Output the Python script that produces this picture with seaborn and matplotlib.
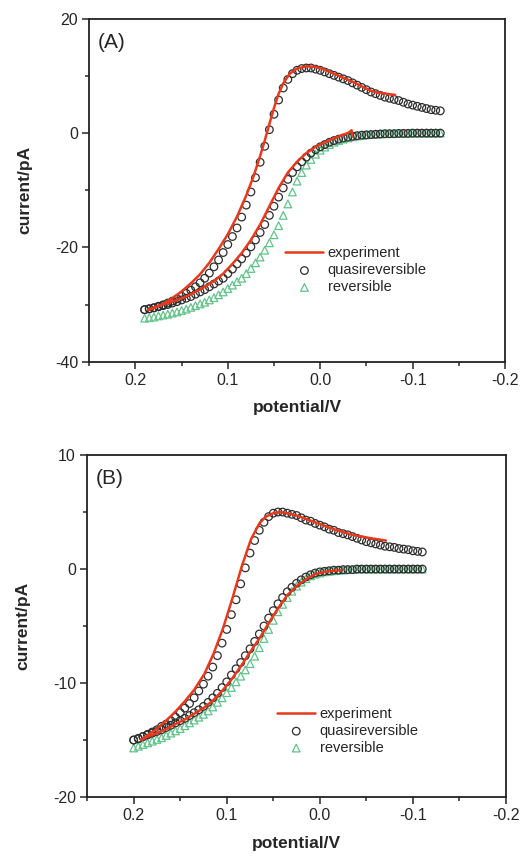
import pandas as pd
import seaborn as sns
import matplotlib.pyplot as plt
from matplotlib.ticker import MultipleLocator, FormatStrFormatter

sns.set_style("ticks")
plt.rcParams['font.family'] = ['Liberation Sans', 'DejaVu Sans']
plt.rcParams['axes.unicode_minus'] = False

# ---------------- panel (A) ----------------
potential_a = [0.190, 0.185, 0.180, 0.175, 0.170, 0.165, 0.160, 0.155, 0.150, 0.145,
               0.140, 0.135, 0.130, 0.125, 0.120, 0.115, 0.110, 0.105, 0.100, 0.095,
               0.090, 0.085, 0.080, 0.075, 0.070, 0.065, 0.060, 0.055, 0.050, 0.045,
               0.040, 0.035, 0.030, 0.025, 0.020, 0.015, 0.010, 0.005, 0.000, -0.005,
               -0.010, -0.015, -0.020, -0.025, -0.030, -0.035, -0.040, -0.045, -0.050, -0.055,
               -0.060, -0.065, -0.070, -0.075, -0.080, -0.085, -0.090, -0.095, -0.100, -0.105,
               -0.110, -0.115, -0.120, -0.125, -0.130]
quasi_a_rev = [-30.9, -30.75, -30.55, -30.3, -30.05, -29.75, -29.4, -29.0, -28.55, -28.05,
               -27.5, -26.9, -26.2, -25.4, -24.5, -23.4, -22.2, -20.9, -19.5, -18.1,
               -16.6, -14.7, -12.6, -10.3, -7.8, -5.1, -2.3, 0.6, 3.3, 5.8,
               7.9, 9.4, 10.4, 11.0, 11.3, 11.4, 11.4, 11.2, 11.0, 10.7,
               10.4, 10.1, 9.8, 9.5, 9.2, 8.8, 8.4, 8.0, 7.6, 7.2,
               6.9, 6.6, 6.3, 6.1, 5.9, 5.7, 5.4, 5.1, 4.9, 4.7,
               4.5, 4.3, 4.1, 4.0, 3.9]
quasi_a_fwd = [-30.9, -30.75, -30.6, -30.4, -30.2, -30.0, -29.75, -29.5, -29.2, -28.9,
               -28.6, -28.2, -27.8, -27.4, -26.9, -26.4, -25.9, -25.4, -24.6, -23.8,
               -22.9, -22.0, -21.0, -19.9, -18.7, -17.4, -16.0, -14.4, -12.8, -11.2,
               -9.6, -8.1, -6.9, -5.9, -5.0, -4.2, -3.5, -2.9, -2.4, -2.0,
               -1.6, -1.3, -1.05, -0.85, -0.7, -0.55, -0.45, -0.35, -0.3, -0.25,
               -0.2, -0.15, -0.1, -0.1, -0.1, -0.05, -0.05, -0.05, 0.0, 0.0,
               0.0, 0.0, 0.0, 0.0, 0.0]
reversible_a = [-32.4, -32.3, -32.2, -32.0, -31.85, -31.7, -31.5, -31.3, -31.05, -30.8,
                -30.5, -30.2, -29.9, -29.6, -29.2, -28.8, -28.3, -27.8, -27.2, -26.6,
                -26.0, -25.4, -24.6, -23.7, -22.7, -21.7, -20.5, -19.2, -17.8, -16.2,
                -14.4, -12.4, -10.3, -8.4, -6.9, -5.6, -4.6, -3.7, -3.0, -2.45,
                -2.0, -1.6, -1.3, -1.05, -0.85, -0.65, -0.5, -0.4, -0.3, -0.25,
                -0.2, -0.15, -0.1, -0.1, -0.05, -0.05, -0.05, 0.0, 0.0, 0.0,
                0.0, 0.0, 0.0, 0.0, 0.0]
exp_a_rev_potential = [0.186, 0.180, 0.170, 0.160, 0.150, 0.140, 0.130, 0.120, 0.110, 0.100,
                       0.090, 0.080, 0.072, 0.065, 0.060, 0.055, 0.050, 0.045, 0.040, 0.033,
                       0.025, 0.015, 0.005, -0.005, -0.015, -0.025, -0.035, -0.045, -0.055, -0.062,
                       -0.068, -0.075, -0.081]
exp_a_rev_current = [-31.0, -30.6, -29.9, -28.9, -27.7, -26.3, -24.7, -22.7, -20.3, -17.7,
                     -14.6, -10.9, -7.5, -4.0, -1.3, 1.6, 4.4, 6.9, 8.7, 10.4,
                     11.3, 11.7, 11.6, 11.1, 10.4, 9.7, 9.0, 8.2, 7.4, 7.1,
                     7.0, 6.8, 6.7]
exp_a_fwd_potential = [0.186, 0.175, 0.165, 0.155, 0.145, 0.135, 0.125, 0.115, 0.105, 0.095,
                       0.085, 0.075, 0.065, 0.055, 0.045, 0.035, 0.025, 0.015, 0.005, -0.005,
                       -0.015, -0.025, -0.031, -0.034, -0.035]
exp_a_fwd_current = [-30.9, -30.2, -29.75, -29.2, -28.6, -27.8, -26.9, -25.9, -24.6, -22.9,
                     -21.0, -18.7, -16.0, -12.8, -9.6, -6.9, -5.0, -3.5, -2.4, -1.6,
                     -0.9, -0.3, 0.1, 0.5, -0.6]

# ---------------- panel (B) ----------------
potential_b = [0.200, 0.195, 0.190, 0.185, 0.180, 0.175, 0.170, 0.165, 0.160, 0.155,
               0.150, 0.145, 0.140, 0.135, 0.130, 0.125, 0.120, 0.115, 0.110, 0.105,
               0.100, 0.095, 0.090, 0.085, 0.080, 0.075, 0.070, 0.065, 0.060, 0.055,
               0.050, 0.045, 0.040, 0.035, 0.030, 0.025, 0.020, 0.015, 0.010, 0.005,
               0.000, -0.005, -0.010, -0.015, -0.020, -0.025, -0.030, -0.035, -0.040, -0.045,
               -0.050, -0.055, -0.060, -0.065, -0.070, -0.075, -0.080, -0.085, -0.090, -0.095,
               -0.100, -0.105, -0.110]
quasi_b_rev = [-15.0, -14.9, -14.7, -14.5, -14.3, -14.1, -13.8, -13.6, -13.3, -13.0,
               -12.6, -12.2, -11.8, -11.3, -10.7, -10.1, -9.4, -8.6, -7.6, -6.5,
               -5.3, -4.0, -2.7, -1.3, 0.1, 1.4, 2.5, 3.4, 4.1, 4.6,
               4.9, 5.0, 5.0, 4.9, 4.8, 4.7, 4.5, 4.3, 4.2, 4.0,
               3.85, 3.7, 3.5, 3.4, 3.2, 3.1, 3.0, 2.85, 2.7, 2.55,
               2.4, 2.3, 2.2, 2.1, 2.0, 1.95, 1.9, 1.8, 1.75, 1.7,
               1.6, 1.55, 1.5]
quasi_b_fwd = [-15.0, -14.85, -14.7, -14.55, -14.4, -14.25, -14.1, -13.9, -13.7, -13.5,
               -13.3, -13.1, -12.85, -12.6, -12.35, -12.05, -11.7, -11.3, -10.9, -10.4,
               -9.9, -9.3, -8.75, -8.2, -7.6, -7.0, -6.35, -5.7, -5.0, -4.3,
               -3.65, -3.05, -2.5, -2.0, -1.6, -1.25, -0.95, -0.7, -0.5, -0.35,
               -0.25, -0.2, -0.15, -0.1, -0.1, -0.05, -0.05, -0.05, 0.0, 0.0,
               0.0, 0.0, 0.0, 0.0, 0.0, 0.0, 0.0, 0.0, 0.0, 0.0,
               0.0, 0.0, 0.0]
reversible_b = [-15.7, -15.55, -15.4, -15.25, -15.1, -14.95, -14.8, -14.6, -14.4, -14.2,
                -14.0, -13.75, -13.5, -13.25, -13.0, -12.75, -12.45, -12.1, -11.7, -11.3,
                -10.85, -10.4, -9.9, -9.4, -8.85, -8.3, -7.65, -6.9, -6.1, -5.3,
                -4.5, -3.75, -3.1, -2.5, -1.95, -1.5, -1.15, -0.85, -0.6, -0.45,
                -0.35, -0.25, -0.2, -0.15, -0.1, -0.1, -0.05, -0.05, 0.0, 0.0,
                0.0, 0.0, 0.0, 0.0, 0.0, 0.0, 0.0, 0.0, 0.0, 0.0,
                0.0, 0.0, 0.0]
exp_b_rev_potential = [0.192, 0.185, 0.175, 0.165, 0.155, 0.145, 0.135, 0.124, 0.114, 0.104,
                       0.094, 0.084, 0.074, 0.065, 0.058, 0.050, 0.043, 0.035, 0.025, 0.015,
                       0.005, -0.005, -0.015, -0.025, -0.035, -0.045, -0.055, -0.063, -0.071]
exp_b_rev_current = [-15.0, -14.6, -14.0, -13.3, -12.5, -11.6, -10.6, -9.2, -7.4, -5.2,
                     -2.6, 0.2, 2.6, 4.0, 4.6, 4.9, 5.0, 4.9, 4.7, 4.4,
                     4.1, 3.8, 3.5, 3.25, 3.0, 2.85, 2.7, 2.6, 2.5]
exp_b_fwd_potential = [0.192, 0.185, 0.175, 0.165, 0.155, 0.145, 0.135, 0.125, 0.115, 0.105,
                       0.095, 0.085, 0.075, 0.065, 0.055, 0.045, 0.035, 0.025, 0.015, 0.005,
                       -0.005, -0.015, -0.023]
exp_b_fwd_current = [-15.0, -14.7, -14.4, -14.05, -13.6, -13.2, -12.7, -12.2, -11.55, -10.7,
                     -9.7, -8.55, -7.3, -6.1, -4.75, -3.45, -2.3, -1.5, -0.9, -0.45,
                     -0.25, -0.15, -0.1]

RED = '#e8391d'
DARK = '#2e2e2e'
GREEN = '#62c28a'


def draw_panel(ax, pot, q_rev, q_fwd, rev, e_rev_x, e_rev_y, e_fwd_x, e_fwd_y,
               ylim, ymajor, yminor, tag, legend_xy):
    sns.scatterplot(x=pot, y=rev, ax=ax, marker='^', s=30, color=GREEN,
                    facecolor='none', edgecolor=GREEN, linewidth=0.9, label='reversible')
    sns.scatterplot(x=pot, y=q_fwd, ax=ax, marker='o', s=30, color=DARK,
                    facecolor='none', edgecolor=DARK, linewidth=0.9, label='_nolegend_')
    sns.scatterplot(x=pot, y=q_rev, ax=ax, marker='o', s=30, color=DARK,
                    facecolor='none', edgecolor=DARK, linewidth=0.9, label='quasireversible')
    sns.lineplot(x=e_fwd_x, y=e_fwd_y, ax=ax, sort=False, estimator=None,
                 color=RED, lw=1.8, label='_nolegend_')
    sns.lineplot(x=e_rev_x, y=e_rev_y, ax=ax, sort=False, estimator=None,
                 color=RED, lw=1.8, label='experiment')

    ax.set_xlim(0.25, -0.2)
    ax.set_ylim(*ylim)
    ax.xaxis.set_major_locator(MultipleLocator(0.1))
    ax.xaxis.set_minor_locator(MultipleLocator(0.05))
    ax.xaxis.set_major_formatter(FormatStrFormatter('%.1f'))
    ax.yaxis.set_major_locator(MultipleLocator(ymajor))
    ax.yaxis.set_minor_locator(MultipleLocator(yminor))
    ax.yaxis.set_major_formatter(FormatStrFormatter('%d'))
    ax.tick_params(which='major', direction='out', length=5, width=1.1,
                   labelsize=11.5, pad=3, top=False, right=False)
    ax.tick_params(which='minor', direction='out', length=3, width=1.1,
                   top=False, right=False)
    for sp in ax.spines.values():
        sp.set_visible(True)
        sp.set_linewidth(1.3)
        sp.set_color('#222222')
    ax.set_xlabel('potential/V', fontsize=12.5, fontweight='bold', labelpad=9)
    ax.set_ylabel('current/pA', fontsize=12.5, fontweight='bold', labelpad=16)
    ax.text(0.02, 0.96, tag, transform=ax.transAxes, fontsize=15,
            ha='left', va='top')

    handles, labels = ax.get_legend_handles_labels()
    lookup = dict(zip(labels, handles))
    order = ['experiment', 'quasireversible', 'reversible']
    ax.legend([lookup[k] for k in order], order, loc='upper left',
              bbox_to_anchor=legend_xy, frameon=False, fontsize=10.5,
              handlelength=2.6, handletextpad=0.3, labelspacing=0.2,
              borderaxespad=0, scatterpoints=1)


fig = plt.figure(figsize=(5.31, 8.57), dpi=100)
ax_a = fig.add_axes([0.168, 0.578, 0.783, 0.400])
ax_b = fig.add_axes([0.164, 0.070, 0.789, 0.399])

draw_panel(ax_a, potential_a, quasi_a_rev, quasi_a_fwd, reversible_a,
           exp_a_rev_potential, exp_a_rev_current, exp_a_fwd_potential, exp_a_fwd_current,
           (-40, 20), 20, 10, '(A)', (0.458, 0.353))
draw_panel(ax_b, potential_b, quasi_b_rev, quasi_b_fwd, reversible_b,
           exp_b_rev_potential, exp_b_rev_current, exp_b_fwd_potential, exp_b_fwd_current,
           (-20, 10), 10, 5, '(B)', (0.44, 0.28))

fig.savefig('out.png', dpi=100)
